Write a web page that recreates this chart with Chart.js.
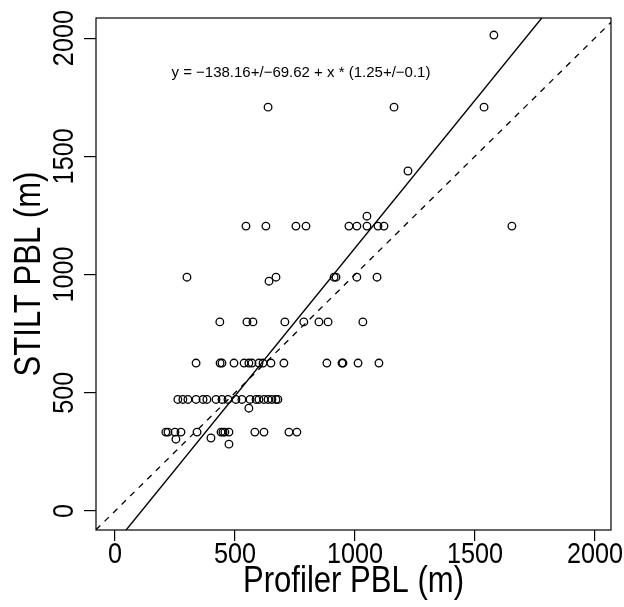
<!DOCTYPE html>
<html>
<head>
<meta charset="utf-8">
<script src="https://cdn.jsdelivr.net/npm/chart.js@4.4.1/dist/chart.umd.min.js"></script>
<style>
  body { margin: 0; background: #fff; }
  #wrap { width: 624px; height: 607px; }
</style>
</head>
<body>
<div id="wrap"><canvas id="pblChart"></canvas></div>
<script>
// Valores (Profiler PBL x STILT PBL, em metros)
const profilerPBL = [
  1579,
  638, 1163, 1538,
  1221,
  1050,
  546, 629, 754, 796, 975, 1008, 1050, 1096, 1121, 1654,
  300, 671, 913, 921, 1008, 1092, 642,
  437, 550, 575, 708, 787, 850, 888, 1033,
  338, 438, 446, 496, 538, 558, 571, 600, 617, 650, 704, 883, 946, 950, 1013, 1100,
  262, 283, 304, 338, 367, 383, 421, 446, 471, 504, 529, 563, 588, 600, 621, 638, 654, 671, 679,
  558,
  212, 221, 250, 275, 342, 442, 450, 458, 475, 583, 621, 725, 758,
  254, 400, 475
];
const stiltPBL = [
  2013,
  1708, 1708, 1708,
  1438,
  1247,
  1205, 1205, 1205, 1205, 1205, 1205, 1205, 1205, 1205, 1205,
  989, 989, 989, 989, 989, 989, 972,
  800, 800, 800, 800, 800, 800, 800, 800,
  626, 626, 626, 626, 626, 626, 626, 626, 626, 626, 626, 626, 626, 626, 626, 626,
  472, 472, 472, 472, 472, 472, 472, 472, 472, 472, 472, 472, 472, 472, 472, 472, 472, 472, 472,
  435,
  334, 334, 334, 334, 334, 334, 334, 334, 334, 334, 334, 334, 334,
  304, 309, 283
];

// Ajuste linear mostrado no gráfico
const intercept = -138.16;
const slope = 1.25;
const fitLabel = 'y = \u2212138.16+/\u221269.62 + x * (1.25+/\u22120.1)';

const xTicks = [0, 500, 1000, 1500, 2000];
const yTicks = [0, 500, 1000, 1500, 2000];
const xRange = [-79, 2067];
const yRange = [-80, 2085];
const xTitle = 'Profiler PBL (m)';
const yTitle = 'STILT PBL (m)';

const axisFont = "'Liberation Sans', Arial, sans-serif";
const narrow = 0.84; // fonte do original é mais estreita

const points = profilerPBL.map((x, i) => ({ x: x, y: stiltPBL[i] }));
const fitLine = xRange.map(x => ({ x: x, y: intercept + slope * x }));
const oneToOne = xRange.map(x => ({ x: x, y: x }));

// escreve texto comprimido na horizontal (ao longo da linha do texto)
function condensedText(ctx, text, x, y, rot, size) {
  ctx.save();
  ctx.translate(x, y);
  ctx.rotate(rot);
  ctx.scale(narrow, 1);
  ctx.font = size + 'px ' + axisFont;
  ctx.textAlign = 'center';
  ctx.textBaseline = 'middle';
  ctx.fillText(text, 0, 0);
  ctx.restore();
}

// Caixa em volta da área, rótulos dos eixos e texto da equação
const extras = {
  id: 'extras',
  afterDraw(chart) {
    const ctx = chart.ctx;
    const a = chart.chartArea;
    const ys = chart.scales.y;
    const xs = chart.scales.x;
    ctx.save();
    ctx.strokeStyle = '#000';
    ctx.lineWidth = 1.2;
    ctx.strokeRect(a.left, a.top, a.right - a.left, a.bottom - a.top);
    ctx.fillStyle = '#000';

    xTicks.forEach(v => condensedText(ctx, String(v), xs.getPixelForValue(v), a.bottom + 25, 0, 30));
    yTicks.forEach(v => condensedText(ctx, String(v), 65, ys.getPixelForValue(v), -Math.PI / 2, 30));
    condensedText(ctx, xTitle, (a.left + a.right) / 2, 582, 0, 37);
    condensedText(ctx, yTitle, 30, (a.top + a.bottom) / 2, -Math.PI / 2, 37);

    ctx.font = "15px 'Liberation Sans', Arial, sans-serif";
    ctx.textAlign = 'center';
    ctx.textBaseline = 'middle';
    ctx.fillText(fitLabel, xs.getPixelForValue(775), ys.getPixelForValue(1852));
    ctx.restore();
  }
};

const ctx = document.getElementById('pblChart').getContext('2d');
new Chart(ctx, {
  type: 'scatter',
  data: {
    datasets: [
      {
        label: 'dados',
        data: points,
        pointStyle: 'circle',
        pointRadius: 3.8,
        pointBorderWidth: 1.3,
        pointBorderColor: '#000',
        pointBackgroundColor: 'rgba(0,0,0,0)'
      },
      {
        label: 'ajuste',
        data: fitLine,
        showLine: true,
        pointRadius: 0,
        borderColor: '#000',
        borderWidth: 1.4
      },
      {
        label: '1:1',
        data: oneToOne,
        showLine: true,
        pointRadius: 0,
        borderColor: '#000',
        borderWidth: 1.3,
        borderDash: [6, 6]
      }
    ]
  },
  options: {
    responsive: true,
    maintainAspectRatio: false,
    animation: false,
    layout: { padding: { top: 18, right: 13, left: 0, bottom: 0 } },
    plugins: {
      legend: { display: false },
      tooltip: { enabled: false }
    },
    scales: {
      x: {
        type: 'linear',
        min: xRange[0],
        max: xRange[1],
        afterBuildTicks: s => { s.ticks = xTicks.map(v => ({ value: v })); },
        afterFit: s => { s.height = 77; s.paddingLeft = 0; s.paddingRight = 0; },
        grid: { display: true, drawOnChartArea: false, drawTicks: true, tickLength: 11, color: '#000', lineWidth: 1.2 },
        border: { display: false },
        ticks: { display: false }
      },
      y: {
        type: 'linear',
        min: yRange[0],
        max: yRange[1],
        afterBuildTicks: s => { s.ticks = yTicks.map(v => ({ value: v })); },
        afterFit: s => { s.width = 96; s.paddingTop = 0; s.paddingBottom = 0; },
        grid: { display: true, drawOnChartArea: false, drawTicks: true, tickLength: 12, color: '#000', lineWidth: 1.2 },
        border: { display: false },
        ticks: { display: false }
      }
    }
  },
  plugins: [extras]
});
</script>
</body>
</html>
